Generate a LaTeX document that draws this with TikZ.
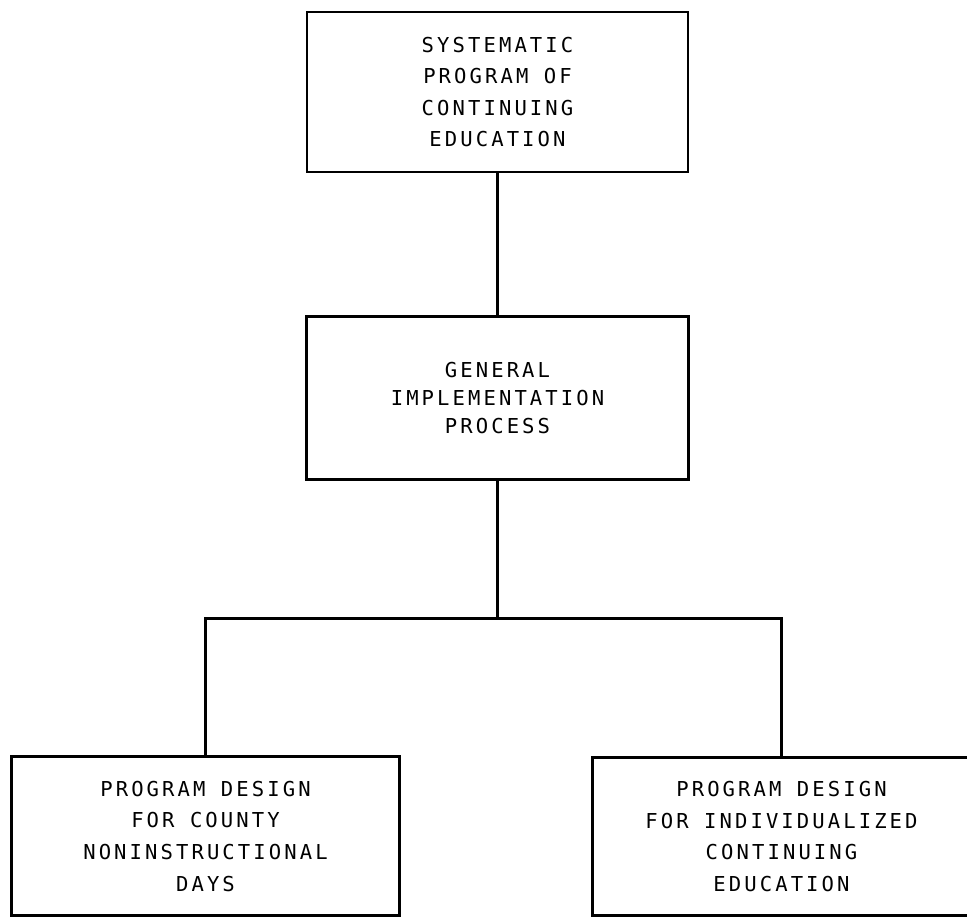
\documentclass[tikz,border=0pt]{standalone}
\usepackage{fontspec}
\newfontfamily\plotfont[LetterSpace=15]{DejaVu Sans Mono}
\usetikzlibrary{positioning}
\tikzstyle{every picture} = [line width=1.6pt]
\tikzstyle{box} = [draw, rectangle, align=center, inner sep=0pt, font={\plotfont\fontsize{11.7}{18}\selectfont}]

\begin{document}
\begin{tikzpicture}
            \useasboundingbox (0,0) rectangle (19.34,18.36);
            \node (node 1) [box, minimum width=7.62cm, minimum height=3.2cm] at (9.95,16.52) {SYSTEMATIC\\PROGRAM OF\\CONTINUING\\EDUCATION};
            \node (node 2) [box, minimum width=7.64cm, minimum height=3.26cm, below=2.84cm of node 1, font={\plotfont\fontsize{11.7}{16}\selectfont}] {GENERAL\\IMPLEMENTATION\\PROCESS};
            \coordinate [below=2.74cm of node 2] (split);
            \node (node 3) [box, minimum width=7.76cm, minimum height=3.18cm, below=5.48cm of node 2, xshift=-5.84cm] {PROGRAM DESIGN\\FOR COUNTY\\NONINSTRUCTIONAL\\DAYS};
            \node (node 4) [box, minimum width=7.56cm, minimum height=3.16cm, below=5.5cm of node 2, xshift=5.68cm] {PROGRAM DESIGN\\FOR INDIVIDUALIZED\\CONTINUING\\EDUCATION};

            \draw (node 1) -- (node 2);
            \draw (node 2) -- (split);
            \draw (node 3) |- (split) -| (node 4);
        \end{tikzpicture}
\end{document}
